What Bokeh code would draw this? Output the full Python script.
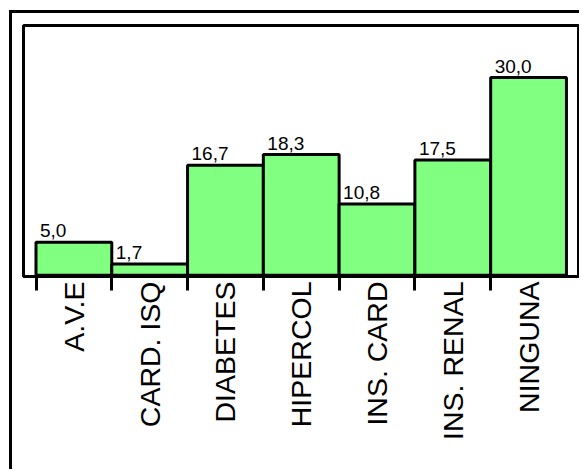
import math

from bokeh.plotting import figure
from bokeh.models import ColumnDataSource, Range1d, FixedTicker, LabelSet
from bokeh.core.properties import value
from bokeh.embed import file_html
from bokeh.resources import INLINE

# Comorbidity categories and their percentages
categories = ["A.V.E", "CARD. ISQ", "DIABETES", "HIPERCOL", "INS. CARD", "INS. RENAL", "NINGUNA"]
values = [5.0, 1.7, 16.7, 18.3, 10.8, 17.5, 30.0]

positions = list(range(len(categories)))
value_labels = [f"{v:.1f}".replace(".", ",") for v in values]
left_edges = [i - 0.5 for i in positions]

source = ColumnDataSource(dict(x=positions, top=values, left=left_edges, label=value_labels))

p = figure(
    width=570, height=459,
    x_range=Range1d(-0.665, 6.659),
    y_range=Range1d(-0.2, 37.9),
    y_axis_type=None,
    output_backend="svg",
    toolbar_location=None,
    min_border_left=11, min_border_top=12, min_border_right=4, min_border_bottom=196,
)
p.styles = {
    "margin-left": "9px",
    "margin-top": "10px",
    "border-left": "3px solid black",
    "border-top": "3px solid black",
}

p.outline_line_color = "black"
p.outline_line_width = 3
p.xgrid.visible = False
p.ygrid.visible = False
p.background_fill_color = "white"
p.border_fill_color = "white"

p.vbar(x="x", top="top", bottom=0, width=1.0, source=source,
       fill_color="#80FF80", line_color="black", line_width=3)

labels = LabelSet(x="left", y="top", text="label", source=source,
                  x_offset=4, y_offset=5,
                  text_font=value("Liberation Sans"), text_font_size="19px",
                  text_color="black", text_align="left", text_baseline="alphabetic")
p.add_layout(labels)

ax = p.xaxis[0]
ax.ticker = FixedTicker(ticks=positions, minor_ticks=left_edges)
ax.major_label_overrides = {i: c for i, c in zip(positions, categories)}
ax.major_label_orientation = math.pi / 2
ax.major_label_text_font = "Liberation Sans"
ax.major_label_text_font_size = "28.5px"
ax.major_label_text_color = "black"
ax.major_label_standoff = -9
ax.axis_line_color = None
ax.major_tick_line_color = None
ax.major_tick_out = 0
ax.major_tick_in = 0
ax.minor_tick_line_color = "black"
ax.minor_tick_line_width = 3
ax.minor_tick_out = 14
ax.minor_tick_in = 0

open("out.html", "w").write(file_html(p, INLINE))
